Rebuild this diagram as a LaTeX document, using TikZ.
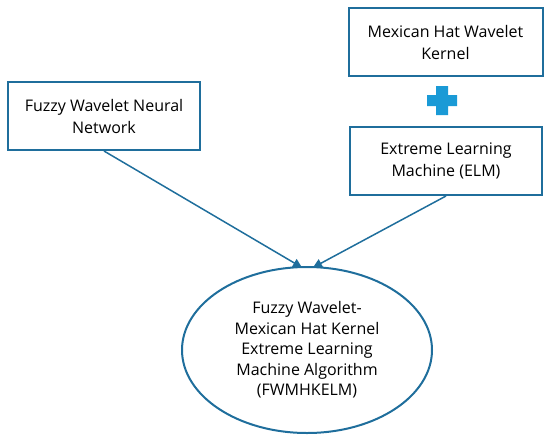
\documentclass[tikz,border=0pt]{standalone}
\usepackage{fontspec}
\setmainfont{Open Sans}
\usepackage{tikz}
\usetikzlibrary{shapes.geometric,arrows.meta}

\definecolor{boxblue}{HTML}{1F6E9C}
\definecolor{plusblue}{HTML}{1A9AD6}

\begin{document}
\begin{tikzpicture}[x=1pt,y=-1pt]
            \tikzstyle{every node}+=[inner sep=0pt]
            \tikzstyle{block}=[draw=boxblue, line width=2pt, minimum width=194pt, minimum height=68pt, align=center, font=\fontsize{16}{22}\selectfont]
            \tikzstyle{link}=[draw=boxblue, line width=1.5pt, -{Triangle[length=9pt,width=9pt]}]
            \useasboundingbox (0,0) rectangle (550,440);
            \draw (445.5,42) node [block] (kernel) {Mexican Hat Wavelet\\Kernel};
            \draw (446,161) node [block, minimum width=192pt] (elm) {Extreme Learning\\Machine (ELM)};
            \draw (104,116) node [block, minimum width=192pt] (fwnn) {Fuzzy Wavelet Neural\\Network};
            \draw (307,350) node [ellipse, draw=boxblue, line width=2pt, minimum width=250pt, minimum height=166pt, align=center, font=\fontsize{16}{20.5}\selectfont] (algo) {Fuzzy Wavelet-\\Mexican Hat Kernel\\Extreme Learning\\Machine Algorithm\\(FWMHKELM)};
            % plus sign
            \fill [plusblue] (436,86) -- (448,86) -- (448,95) -- (457,95) -- (457,106) -- (448,106) -- (448,115) -- (436,115) -- (436,106) -- (427,106) -- (427,95) -- (436,95) -- cycle;
            \draw [link] (fwnn.south) -- (302,267.5) coordinate (inl);
            \draw [link] (elm.south) -- (313,267.5) coordinate (inr);
\end{tikzpicture}
\end{document}
